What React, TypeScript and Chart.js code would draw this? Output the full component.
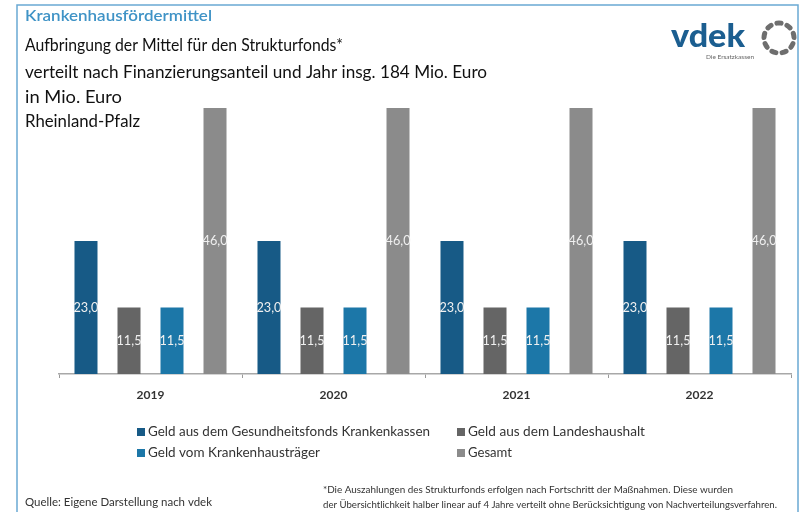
import React, { useEffect, useRef } from "react";
import { Chart, registerables } from "chart.js";

Chart.register(...registerables);

const categories = ["2019", "2020", "2021", "2022"];
const krankenkassen = [23.0, 23.0, 23.0, 23.0];
const landeshaushalt = [11.5, 11.5, 11.5, 11.5];
const krankenhaustraeger = [11.5, 11.5, 11.5, 11.5];
const gesamt = [46.0, 46.0, 46.0, 46.0];
const seriesNames = [
  "Geld aus dem Gesundheitsfonds Krankenkassen",
  "Geld aus dem Landeshaushalt",
  "Geld vom Krankenhausträger",
  "Gesamt",
];
const seriesColors = ["#175a86", "#656565", "#1c77a8", "#8b8b8b"];
const titleLines = [
  "Aufbringung der Mittel für den Strukturfonds*",
  "verteilt nach Finanzierungsanteil und Jahr insg. 184 Mio. Euro",
  "in Mio. Euro",
  "Rheinland-Pfalz",
];
const kicker = "Krankenhausfördermittel";
const source = "Quelle: Eigene Darstellung nach vdek";
const footnote = [
  "*Die Auszahlungen des Strukturfonds erfolgen nach Fortschritt der Maßnahmen. Diese wurden",
  "der Übersichtlichkeit halber linear auf 4 Jahre verteilt ohne Berücksichtigung von Nachverteilungsverfahren.",
];

const FONT = "Lato, 'Open Sans', sans-serif";

function fitText(
  ctx: CanvasRenderingContext2D,
  s: string,
  x: number,
  y: number,
  font: string,
  color: string,
  width?: number
) {
  ctx.save();
  ctx.font = font;
  ctx.fillStyle = color;
  ctx.textBaseline = "middle";
  ctx.textAlign = "left";
  ctx.translate(x, y);
  if (width) {
    const m = ctx.measureText(s).width;
    ctx.scale(width / m, 1);
  }
  ctx.fillText(s, 0, 0);
  ctx.restore();
}

const decorPlugin = {
  id: "decor",
  afterDatasetsDraw(chart: any) {
    const ctx: CanvasRenderingContext2D = chart.ctx;
    chart.data.datasets.forEach((ds: any, i: number) => {
      const meta = chart.getDatasetMeta(i);
      meta.data.forEach((el: any, j: number) => {
        const v = ds.data[j] as number;
        const label = v.toFixed(1).replace(".", ",");
        const cy = (el.y + el.base) / 2;
        ctx.save();
        ctx.font = `13px ${FONT}`;
        ctx.fillStyle = "#f0f0f0";
        ctx.textBaseline = "middle";
        ctx.textAlign = "center";
        const m = ctx.measureText(label).width;
        ctx.translate(el.x, cy);
        ctx.scale(25 / m, 1);
        ctx.fillText(label, 0, 0);
        ctx.restore();
      });
    });
  },
  afterDraw(chart: any) {
    const ctx: CanvasRenderingContext2D = chart.ctx;
    // frame
    ctx.save();
    ctx.strokeStyle = "#6aa9d3";
    ctx.lineWidth = 1.5;
    ctx.strokeRect(17, 5, 781, 520);
    ctx.restore();

    // titles
    fitText(ctx, kicker, 25, 16, `600 16px ${FONT}`, "#3f93c6", 187);
    const ys = [46, 73, 98, 122];
    const ws = [318, 462, 97, 115];
    titleLines.forEach((t, i) => fitText(ctx, t, 25, ys[i], `17px ${FONT}`, "#111", ws[i]));

    // logo
    fitText(ctx, "vdek", 671, 36, `900 33px ${FONT}`, "#1b5e90", 74);
    fitText(ctx, "Die Ersatzkassen", 706, 57, `6px ${FONT}`, "#666", 48);
    ctx.save();
    ctx.strokeStyle = "#6e6e6e";
    ctx.lineWidth = 5;
    ctx.lineCap = "round";
    const cx = 779, cy = 38, r = 15;
    for (let k = 0; k < 9; k++) {
      const a = (k / 9) * Math.PI * 2 - Math.PI / 2;
      ctx.beginPath();
      ctx.arc(cx, cy, r, a - 0.14, a + 0.14);
      ctx.stroke();
    }
    ctx.restore();

    // legend
    const legendPos = [
      { x: 137, y: 432, w: 282 },
      { x: 457, y: 432, w: 177 },
      { x: 137, y: 453, w: 172 },
      { x: 457, y: 453, w: 44 },
    ];
    seriesNames.forEach((n, i) => {
      const p = legendPos[i];
      ctx.save();
      ctx.fillStyle = seriesColors[i];
      ctx.fillRect(p.x, p.y - 4, 8, 8);
      ctx.restore();
      fitText(ctx, n, p.x + 11, p.y, `13px ${FONT}`, "#333", p.w);
    });

    // footer
    fitText(ctx, source, 25, 502, `12px ${FONT}`, "#333", 187);
    fitText(ctx, footnote[0], 323, 490, `9px ${FONT}`, "#333", 410);
    fitText(ctx, footnote[1], 323, 505, `9px ${FONT}`, "#333", 454);
  },
};

export default function App() {
  const ref = useRef<HTMLCanvasElement | null>(null);
  useEffect(() => {
    if (!ref.current) return;
    const seriesData = [krankenkassen, landeshaushalt, krankenhaustraeger, gesamt];
    const chart = new Chart(ref.current, {
      type: "bar",
      data: {
        labels: categories,
        datasets: seriesNames.map((n, i) => ({
          label: n,
          data: seriesData[i],
          backgroundColor: seriesColors[i],
          borderWidth: 0,
          categoryPercentage: 0.94,
          barPercentage: 0.535,
        })),
      },
      options: {
        responsive: false,
        animation: false,
        devicePixelRatio: 1,
        layout: { padding: { left: 59, right: 9, top: 85, bottom: 0 } },
        plugins: {
          legend: { display: false },
          title: { display: false },
          tooltip: { enabled: false },
        },
        scales: {
          x: {
            grid: {
              display: true,
              drawOnChartArea: false,
              drawTicks: true,
              tickLength: 4,
              color: "#9a9a9a",
              offset: true,
            },
            border: { display: true, color: "#a8a8a8", width: 1.5 },
            ticks: {
              color: "#333",
              font: { family: FONT, size: 12, weight: "bold" },
              padding: 10,
            },
            afterFit: (scale: any) => {
              scale.height = 138;
            },
          },
          y: {
            display: false,
            min: 0,
            max: 50,
          },
        },
      },
      plugins: [decorPlugin],
    });
    return () => chart.destroy();
  }, []);
  return (
    <div style={{ position: "absolute", left: 0, top: 0, width: 800, height: 512, background: "#fff" }}>
      <canvas ref={ref} width={800} height={512} style={{ width: 800, height: 512 }} />
    </div>
  );
}
